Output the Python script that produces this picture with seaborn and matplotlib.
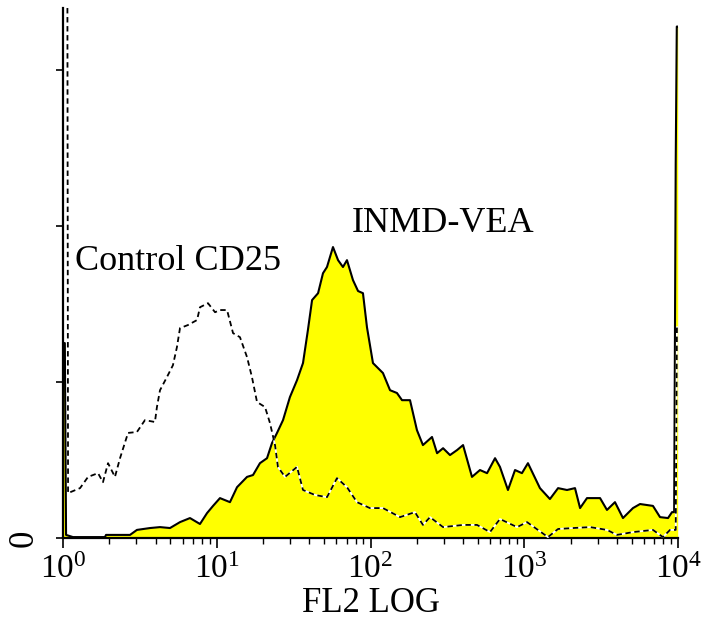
import matplotlib as mpl
import matplotlib.pyplot as plt
import numpy as np
import seaborn as sns

# FL2 channel position in decades (log10) and event counts
inmd_log_fl2 = [0.000, 0.012, 0.020, 0.065, 0.273, 0.280, 0.436, 0.481, 0.566, 0.631,
                0.696, 0.761, 0.826, 0.891, 0.937, 0.976, 1.021, 1.086, 1.132, 1.197,
                1.236, 1.281, 1.327, 1.359, 1.392, 1.431, 1.476, 1.522, 1.561, 1.593,
                1.620, 1.659, 1.691, 1.717, 1.756, 1.789, 1.821, 1.847, 1.886, 1.919,
                1.951, 1.977, 2.016, 2.081, 2.127, 2.172, 2.205, 2.257, 2.302, 2.341,
                2.400, 2.433, 2.472, 2.517, 2.563, 2.602, 2.660, 2.712, 2.758, 2.810,
                2.842, 2.894, 2.940, 2.985, 3.024, 3.102, 3.167, 3.220, 3.278, 3.330,
                3.363, 3.408, 3.493, 3.538, 3.590, 3.642, 3.707, 3.753, 3.837, 3.883,
                3.935, 3.961, 3.975, 3.985, 3.992, 3.998]
inmd_counts = [62.5, 62.5, 1.0, 0.3, 0.3, 1.0, 1.0, 2.6, 3.2, 3.5,
               3.2, 5.1, 6.4, 4.5, 8.0, 10.3, 12.8, 11.5, 16.3, 19.6,
               20.2, 24.0, 25.6, 30.4, 33.7, 37.8, 45.2, 50.6, 56.1, 66.7,
               76.3, 78.5, 84.9, 86.9, 93.3, 89.1, 86.9, 89.1, 82.7, 79.2,
               78.5, 67.6, 56.1, 52.9, 47.4, 46.5, 44.2, 44.2, 34.6, 29.8,
               32.4, 27.2, 28.8, 26.6, 28.2, 29.8, 19.6, 21.8, 20.8, 25.6,
               22.8, 15.4, 21.8, 20.8, 24.0, 16.0, 12.5, 16.0, 15.4, 16.0,
               9.6, 12.8, 12.8, 9.0, 11.5, 6.4, 9.6, 10.9, 10.3, 6.7,
               6.4, 8.3, 8.3, 120.0, 164.0, 164.0]

control_log_fl2 = [0.020, 0.028, 0.033, 0.111, 0.163, 0.228, 0.260, 0.293, 0.338, 0.371,
                   0.423, 0.481, 0.533, 0.598, 0.611, 0.631, 0.676, 0.715, 0.741, 0.761,
                   0.813, 0.872, 0.891, 0.943, 0.989, 1.021, 1.067, 1.106, 1.151, 1.197,
                   1.229, 1.262, 1.314, 1.346, 1.379, 1.398, 1.444, 1.522, 1.561, 1.639,
                   1.717, 1.782, 1.847, 1.912, 1.996, 2.081, 2.192, 2.289, 2.341, 2.387,
                   2.472, 2.602, 2.693, 2.777, 2.842, 2.953, 3.018, 3.154, 3.220, 3.317,
                   3.428, 3.538, 3.603, 3.707, 3.837, 3.902, 3.948, 3.985, 3.993, 3.999]
control_counts = [200.0, 200.0, 14.4, 16.0, 19.6, 20.8, 17.9, 24.0, 19.6, 25.6,
                  33.7, 34.0, 37.8, 37.2, 42.0, 47.4, 51.6, 55.4, 61.2, 67.3,
                  68.3, 69.9, 74.0, 75.3, 72.4, 73.1, 73.1, 65.7, 64.4, 58.0,
                  51.6, 43.6, 42.0, 36.9, 29.8, 22.8, 19.6, 22.8, 15.4, 13.8,
                  13.1, 19.2, 16.3, 11.5, 9.6, 9.6, 6.7, 8.3, 4.2, 6.7,
                  3.5, 4.2, 4.2, 1.9, 6.1, 3.5, 5.1, 0.3, 2.9, 3.2,
                  3.5, 2.6, 1.0, 1.9, 2.6, 0.3, 2.6, 2.6, 67.6, 67.6]

y_ticks = [0, 50, 100, 150]
y_tick_labels = ['0', '', '', '']

sns.set_style('white')
mpl.rcParams.update({
    'font.family': ['Liberation Serif', 'DejaVu Serif'],
    'mathtext.fontset': 'custom',
    'mathtext.rm': 'Liberation Serif',
    'mathtext.it': 'Liberation Serif:italic',
    'mathtext.bf': 'Liberation Serif:bold',
    'text.color': 'black',
    'axes.labelcolor': 'black',
    'xtick.color': 'black',
    'ytick.color': 'black',
})

inmd_fl2 = 10 ** np.array(inmd_log_fl2)
control_fl2 = 10 ** np.array(control_log_fl2)

fig = plt.figure(figsize=(7.19, 6.23), dpi=100)
ax = fig.add_axes([0.0876, 0.1364, 0.8554, 0.851])

# histograma INMD-VEA: relleno amarillo con contorno negro
ax.fill_between(inmd_fl2, inmd_counts, 0, color='#FFFF00', lw=0, zorder=1)
sns.lineplot(x=inmd_fl2, y=inmd_counts, sort=False, color='black', lw=1.5,
             ax=ax, zorder=2)

# control: trazo discontinuo negro sobre fondo blanco
sns.lineplot(x=control_fl2, y=control_counts, sort=False, color='white', lw=1.3,
             ax=ax, zorder=3)
sns.lineplot(x=control_fl2, y=control_counts, sort=False, color='black', lw=1.3,
             ax=ax, zorder=4, dashes=False, linestyle=(0, (3, 2)))

ax.set_xscale('log')
ax.set_xlim(1, 1e4)
ax.set_ylim(0, 170)

ax.set_yticks(y_ticks)
ax.set_yticklabels(y_tick_labels, rotation=90, va='center')
ax.tick_params(axis='y', direction='out', length=5, width=1.2, pad=11,
               labelsize=25, left=True)
ax.tick_params(axis='x', which='major', direction='out', length=7, width=1.2,
               pad=5, labelsize=24, bottom=True)
ax.tick_params(axis='x', which='minor', direction='out', length=4.5, width=1.0,
               bottom=True)

for side in ['top', 'right']:
    ax.spines[side].set_visible(False)
for side in ['left', 'bottom']:
    ax.spines[side].set_linewidth(1.6)
    ax.spines[side].set_color('black')

ax.set_xlabel('FL2 LOG', fontsize=25, labelpad=1)
ax.set_ylabel('')
ax.grid(False)

ax.text(1.2, 86, 'Control CD25', fontsize=26, ha='left', va='baseline')
ax.text(76, 98, 'INMD-VEA', fontsize=26, ha='left', va='baseline')

fig.savefig('out.png', dpi=100, facecolor='white')
